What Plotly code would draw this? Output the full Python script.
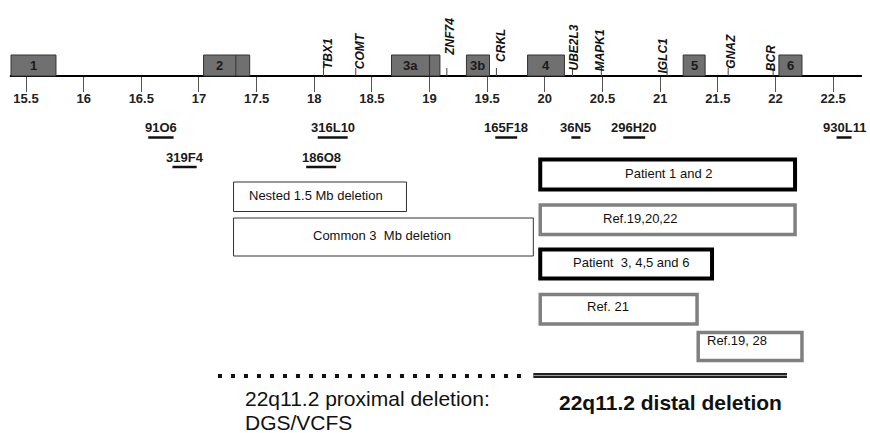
import plotly.graph_objects as go

# ---------------- data (positions in Mb on chromosome 22) ----------------
tick_vals = [15.5, 16, 16.5, 17, 17.5, 18, 18.5, 19, 19.5, 20, 20.5, 21, 21.5, 22, 22.5]
tick_text = ["15.5", "16", "16.5", "17", "17.5", "18", "18.5", "19", "19.5",
             "20", "20.5", "21", "21.5", "22", "22.5"]
chrom_span = [15.36, 22.75]

lcr_names = ["1", "2", "3a", "3b", "4", "5", "6"]
lcr_start = [15.37, 17.04, 18.67, 19.32, 19.85, 21.20, 22.03]
lcr_end = [15.76, 17.44, 19.09, 19.52, 20.17, 21.39, 22.23]
lcr_split = [None, 17.32, 19.00, None, None, None, None]

gene_names = ["TBX1", "COMT", "ZNF74", "CRKL", "UBE2L3", "MAPK1", "IGLC1", "GNAZ", "BCR"]
gene_pos = [18.08, 18.36, 19.15, 19.58, 20.24, 20.49, 21.06, 21.59, 21.98]

clone_names = ["91O6", "319F4", "316L10", "186O8", "165F18", "36N5", "296H20", "930L11"]
clone_start = [16.56, 16.77, 18.03, 17.93, 19.57, 20.23, 20.68, 22.53]
clone_end = [16.78, 16.98, 18.29, 18.19, 19.76, 20.31, 20.87, 22.66]

del_labels = ["Nested 1.5 Mb deletion", "Common 3  Mb deletion", "Patient 1 and 2",
              "Ref.19,20,22", "Patient  3, 4,5 and 6", "Ref. 21", "Ref.19, 28"]
del_start = [17.30, 17.30, 19.96, 19.96, 19.96, 19.96, 21.33]
del_end = [18.80, 19.90, 22.17, 22.17, 21.45, 21.32, 22.23]

region_label_lines = [["22q11.2 proximal deletion:", "DGS/VCFS"], ["22q11.2 distal deletion"]]
region_start = [17.165, 19.90]
region_end = [19.80, 22.10]

# ---------------- layout / style (pixels, y from top) ----------------
W, H = 870, 433
FONT = "Arial, Liberation Sans, sans-serif"
axis_y = 76
lcr_top = 55
gene_top = 68
gene_label_bottom = [65, 65, 52, 58, 67, 67, 70, 65, 67]
gene_label_dx = [4, 4, 3, 4, 1, -1, -4.5, 2, -2]
clone_row = [0, 1, 0, 1, 0, 0, 0, 0]
clone_bar_y = [137.5, 167]
clone_text_y = [127, 157]
del_y = [(182, 211.5), (218, 256), (159.5, 189.5), (205, 234.5),
         (249.5, 278.5), (294.5, 324), (332.5, 360.5)]
del_style = ["thin", "thin", "black", "gray", "black", "gray", "gray"]
styles = {"thin": ("#333333", 1), "black": ("#000000", 4), "gray": ("#808080", 3.5)}
del_text_y = [195, 235, 173, 218, 262, 306.5, 340]
del_text_dx = [13, -1, 1, -28, 5, -11, -13]
del_text_anchor = ["left", "center", "center", "center", "center", "center", "center"]
region_text_x = [243, 557]
region_text_y = [[398, 422], [402]]
region_text_weight = ["normal", "bold"]

shapes = []
annotations = []

# chromosome line
shapes.append(dict(type="line", xref="x", yref="y", x0=chrom_span[0], x1=chrom_span[1],
                   y0=axis_y, y1=axis_y, line=dict(color="#000000", width=2.2)))

# gene markers + labels
for name, pos, lb, dx in zip(gene_names, gene_pos, gene_label_bottom, gene_label_dx):
    shapes.append(dict(type="line", xref="x", yref="y", x0=pos, x1=pos,
                       y0=gene_top, y1=axis_y, line=dict(color="#444444", width=1)))
    annotations.append(dict(x=pos, y=lb, xref="x", yref="y", text=name, textangle=-90,
                            showarrow=False, xanchor="center", yanchor="bottom",
                            xshift=dx, yshift=-6,
                            font=dict(family=FONT, size=12, color="#111111",
                                      weight="bold", style="italic")))

# LCR22 blocks
for name, s, e, sp in zip(lcr_names, lcr_start, lcr_end, lcr_split):
    shapes.append(dict(type="rect", xref="x", yref="y", x0=s, x1=e, y0=lcr_top, y1=axis_y,
                       fillcolor="#707070", line=dict(color="#333333", width=1)))
    cx = (s + e) / 2
    if sp is not None:
        shapes.append(dict(type="line", xref="x", yref="y", x0=sp, x1=sp, y0=lcr_top,
                           y1=axis_y, line=dict(color="#333333", width=1)))
        cx = (s + sp) / 2
    annotations.append(dict(x=cx, y=(lcr_top + axis_y) / 2, xref="x", yref="y", text=name,
                            showarrow=False, font=dict(family=FONT, size=13, color="#1a1a1a",
                                                       weight="bold")))

# BAC clones
for name, s, e, r in zip(clone_names, clone_start, clone_end, clone_row):
    shapes.append(dict(type="line", xref="x", yref="y", x0=s, x1=e, y0=clone_bar_y[r],
                       y1=clone_bar_y[r], line=dict(color="#111111", width=2.5)))
    annotations.append(dict(x=(s + e) / 2, y=clone_text_y[r], xref="x", yref="y", text=name,
                            showarrow=False, font=dict(family=FONT, size=13, color="#1a1a1a",
                                                       weight="bold")))

# deletion boxes
for lab, s, e, (y0, y1), st, ty, dx, anc in zip(del_labels, del_start, del_end, del_y,
                                                 del_style, del_text_y, del_text_dx,
                                                 del_text_anchor):
    col, lw = styles[st]
    shapes.append(dict(type="rect", xref="x", yref="y", x0=s, x1=e, y0=y0, y1=y1,
                       fillcolor="rgba(0,0,0,0)", line=dict(color=col, width=lw)))
    ax = s if anc == "left" else (s + e) / 2
    annotations.append(dict(x=ax, y=ty, xref="x", yref="y", text=lab, showarrow=False,
                            xanchor=anc, xshift=dx,
                            font=dict(family=FONT, size=13, color="#111111")))

# bottom region lines
shapes.append(dict(type="line", xref="x", yref="y", x0=region_start[0], x1=region_end[0],
                   y0=376, y1=376, line=dict(color="#111111", width=4, dash="4px,9px")))
shapes.append(dict(type="line", xref="x", yref="y", x0=region_start[1], x1=region_end[1],
                   y0=375.5, y1=375.5, line=dict(color="#222222", width=5)))
shapes.append(dict(type="line", xref="x", yref="y", x0=region_start[1], x1=region_end[1],
                   y0=375.5, y1=375.5, line=dict(color="#9a9a9a", width=1)))

for lines, tx, tys, wt in zip(region_label_lines, region_text_x, region_text_y,
                              region_text_weight):
    for line, ty in zip(lines, tys):
        annotations.append(dict(x=tx / W, y=ty, xref="paper", yref="y", text=line,
                                showarrow=False, xanchor="left", yanchor="middle",
                                font=dict(family=FONT, size=21, color="#111111", weight=wt)))

# px -> Mb mapping (linear): 15.5 at 26 px, 115.3 px per Mb
px_per_mb = 115.3
x_range = [15.5 - 26 / px_per_mb, 15.5 + (W - 26) / px_per_mb]

fig = go.Figure()
fig.add_trace(go.Scatter(x=[tick_vals[0]], y=[axis_y], mode="markers",
                         marker=dict(opacity=0), hoverinfo="skip", showlegend=False))
fig.update_layout(
    width=W, height=H, template="none",
    margin=dict(l=0, r=0, t=0, b=0),
    paper_bgcolor="white", plot_bgcolor="white",
    showlegend=False,
    shapes=shapes, annotations=annotations,
    xaxis=dict(range=x_range, anchor="free", position=1 - axis_y / H,
               showgrid=False, zeroline=False, showline=False, automargin=False,
               tickmode="array", tickvals=tick_vals, ticktext=tick_text,
               ticks="outside", ticklen=15, tickwidth=1, tickcolor="#555555",
               ticklabelstandoff=-5,
               tickfont=dict(family=FONT, size=13, color="#222222", weight="bold"),
               fixedrange=True),
    yaxis=dict(range=[H, 0], domain=[0, 1], visible=False, showgrid=False,
               zeroline=False, automargin=False, fixedrange=True),
)
fig.write_html("out.html", config={"displayModeBar": False},
               post_script="document.body.style.margin='0';document.body.style.overflow='hidden';")
